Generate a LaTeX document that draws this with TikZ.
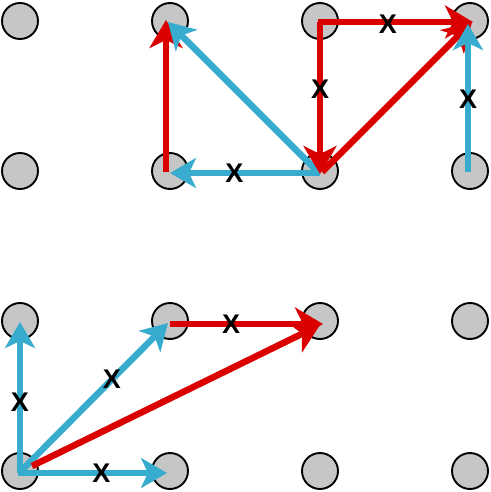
\documentclass[tikz,border=0pt]{standalone}
\usepackage{fontspec}
\setmainfont{Liberation Sans}
\usetikzlibrary{arrows.meta}
\definecolor{dotgray}{RGB}{198,198,198}
\definecolor{myred}{RGB}{218,0,0}
\definecolor{myblue}{RGB}{56,172,206}
\tikzset{
  dot/.style={circle,draw=black,line width=1.9pt,fill=dotgray,minimum size=36pt,inner sep=0pt},
  redarr/.style={draw=myred,line width=6.5pt,-{Stealth[length=28pt,width=33pt,inset=8pt]}},
  bluearr/.style={draw=myblue,line width=6.5pt,-{Stealth[length=26pt,width=30pt,inset=7pt]}},
  lab/.style={font=\fontsize{27}{27}\selectfont\bfseries,text=black,inner sep=0pt}
}
\begin{document}
\begin{tikzpicture}[x=1pt,y=-1pt]
\useasboundingbox (0,0) rectangle (490,492);
\foreach \c [count=\i] in {20,170,320,470}{
  \foreach \r [count=\j] in {21,171,321,471}{
    \node[dot] (c\i\j) at (\c,\r) {};
  }
}
% top block
\draw[redarr] ([xshift=-4pt,yshift=-1pt]c22.center) -- ([xshift=-4pt,yshift=1pt]c21.center);
\draw[bluearr] ([xshift=-2pt,yshift=-1pt]c32.center) -- ([xshift=-2pt,yshift=-1pt]c21.center);
\draw[bluearr] ([yshift=-2pt]c32.center) -- node[lab,pos=0.57]{X} ([yshift=-2pt]c22.center);
\draw[redarr] ([yshift=-1pt]c31.center) -- node[lab,pos=0.44]{X} ([yshift=-3pt]c32.center);
\draw[redarr] ([xshift=-2pt,yshift=-1pt]c31.center) -- node[lab,pos=0.45,yshift=-2pt]{X} ([xshift=3pt,yshift=-1pt]c41.center);
\draw[redarr] ([xshift=2pt,yshift=-1pt]c32.center) -- ([xshift=2pt,yshift=-1pt]c41.center);
\draw[bluearr] ([xshift=-2pt,yshift=-1pt]c42.center) -- node[lab,pos=0.49]{X} ([xshift=-2pt,yshift=-3pt]c41.center);
% bottom block
\draw[bluearr] ([yshift=-2pt]c14.center) -- node[lab,pos=0.47]{X} ([yshift=-1pt]c13.center);
\draw[bluearr] ([yshift=-1pt]c14.center) -- node[lab,pos=0.62]{X} ([xshift=-2pt,yshift=-2pt]c23.center);
\draw[bluearr] ([xshift=-2pt,yshift=-2pt]c14.center) -- node[lab,pos=0.56]{X} ([xshift=-3pt,yshift=-2pt]c24.center);
\draw[redarr] ([yshift=-3pt]c23.center) -- node[lab,pos=0.4]{X} ([xshift=3pt,yshift=-3pt]c33.center);
\draw[redarr] ([xshift=12pt,yshift=5pt]c14.center) -- ([yshift=-4pt]c33.center);
\end{tikzpicture}
\end{document}
